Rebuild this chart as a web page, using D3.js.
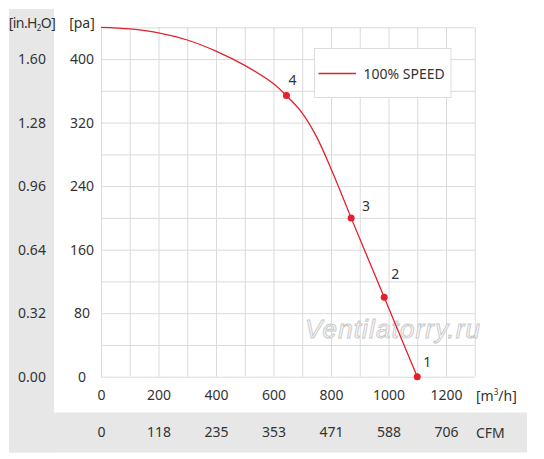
<!DOCTYPE html>
<html>
<head>
<meta charset="utf-8">
<script src="https://cdn.jsdelivr.net/npm/d3@7"></script>
<style>
  body { margin: 0; background: #fff; }
  svg { display: block; font-family: "Noto Sans", sans-serif; }
  .grid line { stroke: #dadada; stroke-width: 1; }
  .grid path { display: none; }
  .lbl { fill: #333; font-size: 14px; }
</style>
</head>
<body>
<svg id="chart" width="544" height="459"></svg>
<script>
// airflow [m3/h] vs static pressure [pa]
const curveFlow     = [0, 100, 200, 300, 400, 500, 600, 645, 700, 750, 800, 830, 870, 985, 1100];
const curvePressure = [440, 438, 433, 424, 410, 392, 369, 354, 332, 302, 262, 236, 200, 100, 0];

const pointFlow     = [1100, 985, 870, 645];
const pointPressure = [0, 100, 200, 354];
const pointNames    = ['1', '2', '3', '4'];

const flowTicks  = [0, 200, 400, 600, 800, 1000, 1200];
const cfmLabels  = ['0', '118', '235', '353', '471', '588', '706'];
const paTicks    = [0, 80, 160, 240, 320, 400];
const inchLabels = ['0.00', '0.32', '0.64', '0.96', '1.28', '1.60'];

const seriesName = '100% SPEED';
const red = '#e4202c';

// label nudges for the numbered points (px)
const nameShift = [[10, -15], [11, -23], [15, -12], [6, -16]];

const svg = d3.select('#chart');

const x = d3.scaleLinear().domain([0, 1300]).range([101, 474.75]);
const y = d3.scaleLinear().domain([0, 440]).range([376.7, 27.3]);

// grey bands: left column + bottom row
svg.append('rect').attr('x', 9).attr('y', 9).attr('width', 45).attr('height', 443.5).attr('fill', '#e6e7e6');
svg.append('rect').attr('x', 9).attr('y', 412.5).attr('width', 518).attr('height', 40).attr('fill', '#e6e7e6');

// grid
svg.append('g')
    .attr('class', 'grid')
    .attr('transform', 'translate(0,' + y(0) + ')')
    .call(d3.axisBottom(x).tickValues(d3.range(0, 1301, 100)).tickSize(-(y(0) - y(440))).tickFormat(''));
svg.append('g')
    .attr('class', 'grid')
    .attr('transform', 'translate(' + x(0) + ',0)')
    .call(d3.axisLeft(y).tickValues(d3.range(0, 441, 40)).tickSize(-(x(1300) - x(0))).tickFormat(''));

// watermark
svg.append('text')
    .attr('x', 305).attr('y', 338)
    .attr('textLength', 175)
    .attr('font-family', 'Liberation Sans, sans-serif')
    .attr('font-style', 'italic')
    .attr('font-size', 26)
    .attr('fill', '#fafafa')
    .attr('stroke', '#c8c8c8')
    .attr('stroke-width', 0.9)
    .text('Ventilatorry.ru');

// x labels: m3/h and CFM
const xLabels = svg.append('g')
    .attr('transform', 'translate(0,390)')
    .call(d3.axisBottom(x).tickValues(flowTicks).tickSize(0).tickPadding(0).tickFormat(d3.format('d')));
const cfm = svg.append('g')
    .attr('transform', 'translate(0,427)')
    .call(d3.axisBottom(x).tickValues(flowTicks).tickSize(0).tickPadding(0)
        .tickFormat((d, i) => cfmLabels[i]));

// y labels: pa and in.H2O
const paLabels = svg.append('g')
    .attr('transform', 'translate(82,0)')
    .call(d3.axisLeft(y).tickValues(paTicks).tickSize(0).tickPadding(0).tickFormat(d3.format('d')));
const inLabels = svg.append('g')
    .attr('transform', 'translate(32,0)')
    .call(d3.axisLeft(y).tickValues(paTicks).tickSize(0).tickPadding(0)
        .tickFormat((d, i) => inchLabels[i]));

[xLabels, cfm, paLabels, inLabels].forEach(g => {
    g.attr('font-size', null).attr('font-family', null);
    g.select('.domain').remove();
    g.selectAll('text')
        .attr('class', 'lbl')
        .attr('fill', null)
        .attr('text-anchor', 'middle');
});

// unit captions
let unit = svg.append('text').attr('class', 'lbl').attr('x', 476).attr('y', 401);
unit.append('tspan').text('[m');
unit.append('tspan').attr('font-size', 8).attr('dy', -6).text('3');
unit.append('tspan').attr('dy', 6).text('/h]');

svg.append('text').attr('class', 'lbl').attr('x', 476).attr('y', 438).text('CFM');
svg.append('text').attr('class', 'lbl').attr('x', 82).attr('y', 28).attr('text-anchor', 'middle').text('[pa]');

let inch = svg.append('text').attr('class', 'lbl').attr('x', 32).attr('y', 28)
    .attr('text-anchor', 'middle').attr('font-size', 12.5).attr('letter-spacing', -0.6);
inch.append('tspan').text('[in.H');
inch.append('tspan').attr('font-size', 8).attr('dy', 3).text('2');
inch.append('tspan').attr('dy', -3).text('O]');

// curve
const line = d3.line()
    .x(d => x(d[0]))
    .y(d => y(d[1]))
    .curve(d3.curveCatmullRom.alpha(0.5));

svg.append('path')
    .datum(d3.zip(curveFlow, curvePressure))
    .attr('d', line)
    .attr('fill', 'none')
    .attr('stroke', red)
    .attr('stroke-width', 1.3);

const pts = d3.zip(pointFlow, pointPressure);

svg.selectAll('circle.pt')
    .data(pts)
    .join('circle')
    .attr('class', 'pt')
    .attr('cx', d => x(d[0]))
    .attr('cy', d => y(d[1]))
    .attr('r', 3.5)
    .attr('fill', red);

svg.selectAll('text.pt')
    .data(pts)
    .join('text')
    .attr('class', 'pt lbl')
    .attr('text-anchor', 'middle')
    .attr('x', (d, i) => x(d[0]) + nameShift[i][0])
    .attr('y', (d, i) => y(d[1]) + nameShift[i][1] + 5)
    .text((d, i) => pointNames[i]);

// legend
const legend = svg.append('g').attr('transform', 'translate(314.5,48.5)');
legend.append('rect')
    .attr('width', 136.5).attr('height', 49)
    .attr('fill', '#fff')
    .attr('stroke', '#dcdcdc');
legend.append('line')
    .attr('x1', 4).attr('x2', 41.5)
    .attr('y1', 25).attr('y2', 25)
    .attr('stroke', red).attr('stroke-width', 1.6);
legend.append('text')
    .attr('class', 'lbl')
    .attr('x', 49).attr('y', 30)
    .attr('font-size', 13.5)
    .text(seriesName);
</script>
</body>
</html>
